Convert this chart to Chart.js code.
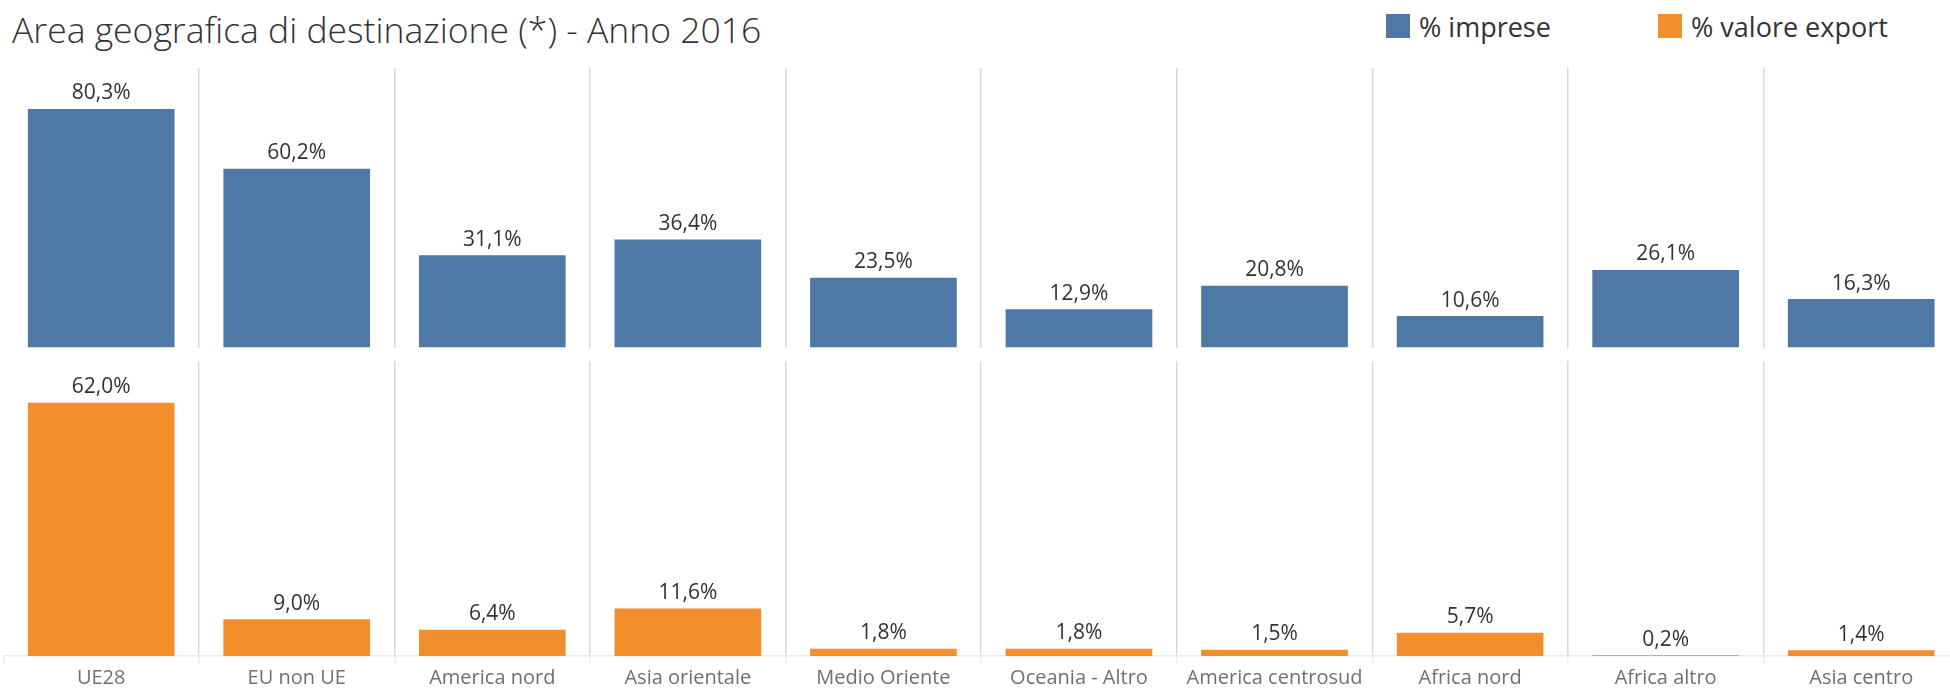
<!DOCTYPE html>
<html>
<head>
<meta charset="utf-8">
<script src="https://cdn.jsdelivr.net/npm/chart.js@4/dist/chart.umd.min.js"></script>
<style>
  html, body { margin: 0; padding: 0; background: #fff; overflow: hidden; }
  body { width: 1950px; height: 692px; position: relative; font-family: "Open Sans", sans-serif; }
  #title { position: absolute; left: 12px; top: 12px; font-size: 35.5px; font-weight: 300; color: #333; line-height: 1; white-space: nowrap; }
  .leg { position: absolute; top: 14px; height: 24px; display: flex; align-items: center; font-size: 27px; font-weight: 500; color: #333; white-space: nowrap; }
  .leg i { display: inline-block; width: 24px; height: 24px; margin-right: 9px; }
  #top, #bottom { position: absolute; left: 0; width: 1960px; }
  #top { top: 0; height: 350px; }
  #bottom { top: 350px; height: 342px; }
</style>
</head>
<body>
<div id="title">Area geografica di destinazione (*) - Anno 2016</div>
<div class="leg" style="left:1386px"><i style="background:#4e79a7"></i>% imprese</div>
<div class="leg" style="left:1658px"><i style="background:#f28e2b"></i>% valore export</div>
<div id="top"><canvas id="chartTop"></canvas></div>
<div id="bottom"><canvas id="chartBottom"></canvas></div>
<script>
const areas = ['UE28', 'EU non UE', 'America nord', 'Asia orientale', 'Medio Oriente',
  'Oceania - Altro', 'America centrosud', 'Africa nord', 'Africa altro', 'Asia centro'];
const impreseValues = [80.3, 60.2, 31.1, 36.4, 23.5, 12.9, 20.8, 10.6, 26.1, 16.3];
const exportValues = [62.0, 9.0, 6.4, 11.6, 1.8, 1.8, 1.5, 5.7, 0.2, 1.4];

// value labels above each bar, italian decimal comma
const valueLabels = {
  id: 'valueLabels',
  afterDatasetsDraw(chart) {
    const c = chart.ctx;
    c.save();
    c.font = '21px "Open Sans"';
    c.fillStyle = '#333';
    c.textAlign = 'center';
    c.textBaseline = 'alphabetic';
    chart.getDatasetMeta(0).data.forEach((bar, i) => {
      const v = chart.data.datasets[0].data[i];
      c.fillText(v.toFixed(1).replace('.', ',') + '%', bar.x, bar.y - 9.5);
    });
    c.restore();
  }
};

function gridColor(ctx) {
  return ctx.index === 0 || ctx.index === areas.length ? 'rgba(0,0,0,0)' : '#d9d9d9';
}

function makeChart(id, values, color, yMax, showLabels, pad) {
  return new Chart(document.getElementById(id), {
    type: 'bar',
    data: {
      labels: areas,
      datasets: [{
        data: values,
        backgroundColor: color,
        barPercentage: 0.75,
        categoryPercentage: 1
      }]
    },
    options: {
      responsive: true,
      maintainAspectRatio: false,
      animation: false,
      layout: { padding: pad },
      scales: {
        x: {
          grid: {
            offset: true,
            color: gridColor,
            tickColor: '#eeeeee',
            lineWidth: 1.5,
            drawTicks: showLabels,
            tickLength: 8
          },
          border: { display: showLabels, color: '#ebebeb', width: 1.5 },
          ticks: {
            display: showLabels,
            color: '#707070',
            padding: 2,
            font: { family: 'Open Sans', size: 20 }
          }
        },
        y: { display: false, min: 0, max: yMax }
      },
      plugins: {
        legend: { display: false },
        tooltip: { enabled: false }
      }
    },
    plugins: [valueLabels]
  });
}

makeChart('chartTop', impreseValues, '#4e79a7', 94.1, false, { top: 68, bottom: 2.5, left: 3.4, right: 1 });
makeChart('chartBottom', exportValues, '#f28e2b', 72.2, true, { top: 11, bottom: 0, left: 3.4, right: 1 });
</script>
</body>
</html>
